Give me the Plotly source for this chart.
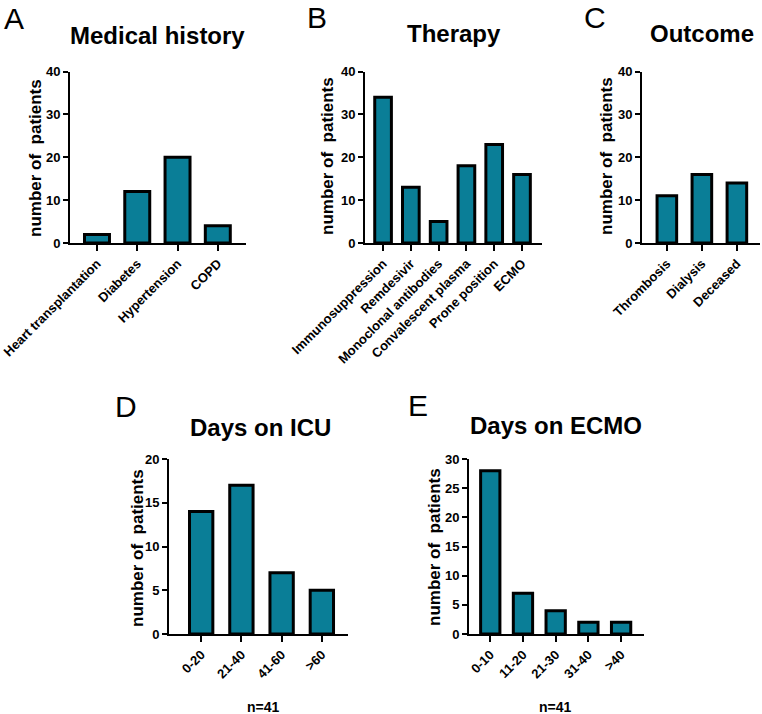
import plotly.graph_objects as go

W, H = 762, 714

# ---- data ----
med_cats = ["Heart transplantation", "Diabetes", "Hypertension", "COPD"]
med_vals = [2, 12, 20, 4]

ther_cats = ["Immunosuppression", "Remdesivir", "Monoclonal antibodies",
             "Convalescent plasma", "Prone position", "ECMO"]
ther_vals = [34, 13, 5, 18, 23, 16]

out_cats = ["Thrombosis", "Dialysis", "Deceased"]
out_vals = [11, 16, 14]

icu_cats = ["0-20", "21-40", "41-60", ">60"]
icu_vals = [14, 17, 7, 5]

ecmo_cats = ["0-10", "11-20", "21-30", "31-40", ">40"]
ecmo_vals = [28, 7, 4, 2, 2]

BAR = "#0a7e97"
FONT = "Liberation Sans, Arial, sans-serif"


def px_x(p):
    return p / W


def px_y(p):
    return 1 - p / H


# panel specs: (cats, vals, x_px domain, y_px domain(top,bottom), xrange, yrange, dtick, barwidth)
panels = [
    (med_cats, med_vals, (70, 246), (71.5, 243), (-0.67, 3.70), (0, 40), 10, 0.62),
    (ther_cats, ther_vals, (365, 542), (71.5, 243), (-0.65, 5.72), (0, 40), 10, 0.60),
    (out_cats, out_vals, (642, 760), (71.5, 243), (-0.71, 2.66), (0, 40), 10, 0.56),
    (icu_cats, icu_vals, (169, 348), (459, 634), (-0.80, 3.65), (0, 20), 5, 0.58),
    (ecmo_cats, ecmo_vals, (469, 644), (459, 634), (-0.65, 4.70), (0, 30), 5, 0.59),
]

fig = go.Figure()
layout = dict(
    width=W, height=H,
    margin=dict(l=0, r=0, t=0, b=0, pad=0, autoexpand=False),
    paper_bgcolor="white", plot_bgcolor="white",
    showlegend=False,
    font=dict(family=FONT, color="black"),
)

for i, (cats, vals, xd, yd, xr, yr, dt, bw) in enumerate(panels):
    n = "" if i == 0 else str(i + 1)
    fig.add_trace(go.Bar(
        x=cats, y=vals, xaxis="x" + n, yaxis="y" + n,
        width=bw,
        marker=dict(color=BAR, line=dict(color="black", width=3)),
        hoverinfo="x+y",
    ))
    layout["xaxis" + n] = dict(
        domain=[px_x(xd[0]), px_x(xd[1])],
        anchor="y" + n,
        type="category",
        range=list(xr),
        showline=True, linecolor="black", linewidth=2,
        ticks="outside", ticklen=6, tickwidth=2, tickcolor="black",
        tickangle=-45, automargin=False,
        tickfont=dict(family=FONT, size=13, color="black", weight=700),
        showgrid=False, zeroline=False, fixedrange=True,
    )
    layout["yaxis" + n] = dict(
        domain=[px_y(yd[1]), px_y(yd[0])],
        anchor="x" + n,
        range=list(yr),
        dtick=dt, tick0=0, automargin=False,
        showline=True, linecolor="black", linewidth=2,
        ticks="outside", ticklen=5, tickwidth=2, tickcolor="black",
        tickfont=dict(family=FONT, size=13, color="black", weight=700),
        showgrid=False, zeroline=False, fixedrange=True,
    )

annotations = []

# panel titles
titles = [("Medical history", 157, 35), ("Therapy", 454, 33), ("Outcome", 702, 33),
          ("Days on ICU", 260, 427), ("Days on ECMO", 556, 425)]
for t, x, y in titles:
    annotations.append(dict(text=t, x=px_x(x), y=px_y(y), xref="paper", yref="paper",
                            showarrow=False, xanchor="center", yanchor="middle",
                            font=dict(family=FONT, size=24, color="black", weight=700)))

# panel letters
letters = [("A", 14, 18), ("B", 317, 17), ("C", 595, 17), ("D", 126, 406), ("E", 418, 405)]
for t, x, y in letters:
    annotations.append(dict(text=t, x=px_x(x), y=px_y(y), xref="paper", yref="paper",
                            showarrow=False, xanchor="center", yanchor="middle",
                            font=dict(family=FONT, size=30, color="black")))

# y axis titles
ytitles = [(35, 158), (327, 156), (606, 156), (137, 548), (434, 547)]
for x, y in ytitles:
    annotations.append(dict(text="number of  patients", x=px_x(x), y=px_y(y),
                            xref="paper", yref="paper", textangle=-90,
                            showarrow=False, xanchor="center", yanchor="middle",
                            font=dict(family=FONT, size=17, color="black", weight=700)))

# n=41 notes
for x, y in [(263, 707), (555, 707)]:
    annotations.append(dict(text="n=41", x=px_x(x), y=px_y(y), xref="paper", yref="paper",
                            showarrow=False, xanchor="center", yanchor="middle",
                            font=dict(family=FONT, size=14, color="black", weight=700)))

layout["annotations"] = annotations
fig.update_layout(**layout)
fig.write_html("out.html")
